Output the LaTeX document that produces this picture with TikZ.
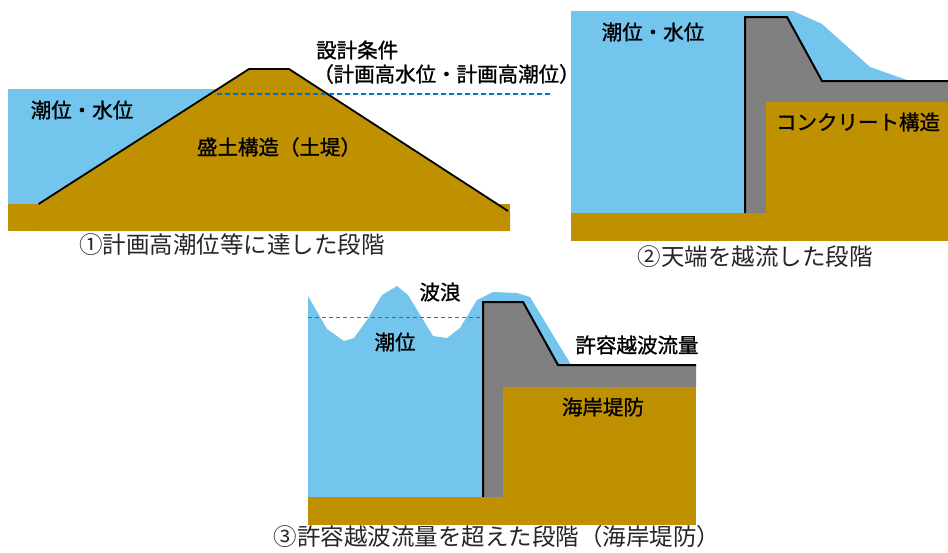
\documentclass[tikz,border=0pt]{standalone}
\usepackage{fontspec}
\setmainfont{Noto Sans CJK JP}
\newfontfamily\gothicmed{Noto Sans CJK JP}[FakeBold=1.2]

\definecolor{seablue}{RGB}{116,197,238}
\definecolor{soilbrown}{RGB}{191,144,0}
\definecolor{concretegray}{RGB}{128,128,128}
\definecolor{levelblue}{RGB}{0,112,192}
\definecolor{levelgray}{RGB}{100,100,100}

\begin{document}
\begin{tikzpicture}[
            x=1pt, y=-1pt,
            water fill/.style={fill=seablue},
            soil fill/.style={fill=soilbrown},
            concrete fill/.style={fill=concretegray},
            levee line/.style={draw=black, line width=2pt, line join=miter},
            level line/.style={dashed, line width=1.8pt},
            part label/.style={inner sep=0pt, font=\gothicmed\fontsize{20.5}{24}\selectfont},
            stage caption/.style={inner sep=0pt, font=\fontsize{23.5}{28}\selectfont, text=black!85}
    ]
        \useasboundingbox (0,0) rectangle (948,552);

        % Stage 1: earth embankment
        \fill[water fill] (8,89) rectangle (250,204);
        \fill[soil fill] (8,204) rectangle (510,231);
        \fill[soil fill] (38.6,204) -- (249,69) -- (289,69) -- (510,212) -- (510,231) -- (38.6,231) -- cycle;
        \draw[levee line, line width=1.8pt] (38.6,204) -- (249,69) -- (289,69) -- (508,211);
        \draw[level line, draw=levelblue, dash pattern=on 5pt off 3pt] (217,93.7) -- (550,93.7);

        \node[part label] (tide1) at (82,110) {潮位・水位};
        \node[part label] (bank1) at (279,147) {盛土構造（土堤）};
        \node[part label, anchor=west] (design) at (316,50) {設計条件};
        \node[part label, anchor=west] (design_sub) at (313,74) {（計画高水位・計画高潮位）};
        \node[stage caption] (cap1) at (232,245) {①計画高潮位等に達した段階};

        % Stage 2: overflow of the crest
        \fill[water fill] (571,11) -- (793,11) -- (822,24) -- (870,67) -- (907,80) -- (907,81)
            -- (745,81) -- (745,213) -- (571,213) -- cycle;
        \fill[concrete fill] (745,213) -- (745,17) -- (787,17) -- (822,81) -- (948,81)
            -- (948,102) -- (766,102) -- (766,213) -- cycle;
        \fill[soil fill] (766,102) rectangle (948,213);
        \fill[soil fill] (571,213) rectangle (948,241);
        \draw[levee line] (745,213) -- (745,17) -- (787,17) -- (822,81) -- (948,81);

        \node[part label] (tide2) at (653,32) {潮位・水位};
        \node[part label] (wall2) at (858,122) {コンクリート構造};
        \node[stage caption] (cap2) at (755,257) {②天端を越流した段階};

        % Stage 3: allowable overtopping exceeded
        \fill[water fill] (308,296) -- (327,329) -- (344,341) -- (354,338) -- (367,320)
            -- (382,295) -- (397,286) -- (408,295) -- (433,336) -- (447,338) -- (460,328)
            -- (477,300) -- (493,292) -- (517,293) -- (530,297) -- (550,330) -- (570,363)
            -- (570,365) -- (483,365) -- (483,497) -- (308,497) -- cycle;
        \fill[concrete fill] (483,497) -- (483,302) -- (523,302) -- (558,365) -- (696,365)
            -- (696,387) -- (503,387) -- (503,497) -- cycle;
        \fill[soil fill] (503,387) rectangle (696,497);
        \fill[soil fill] (308,497) rectangle (696,525);
        \draw[levee line] (483,497) -- (483,302) -- (523,302) -- (558,365) -- (696,365);
        \draw[level line, draw=levelgray, line width=1.5pt, dash pattern=on 4pt off 3pt] (308,317.7) -- (483,317.7);

        \node[part label] (wave3) at (440,292) {波浪};
        \node[part label] (tide3) at (395,342) {潮位};
        \node[part label] (flow3) at (637,345) {許容越波流量};
        \node[part label] (wall3) at (603,407) {海岸堤防};
        \node[stage caption] (cap3) at (497,537) {③許容越波流量を超えた段階（海岸堤防）};

    \end{tikzpicture}
\end{document}
